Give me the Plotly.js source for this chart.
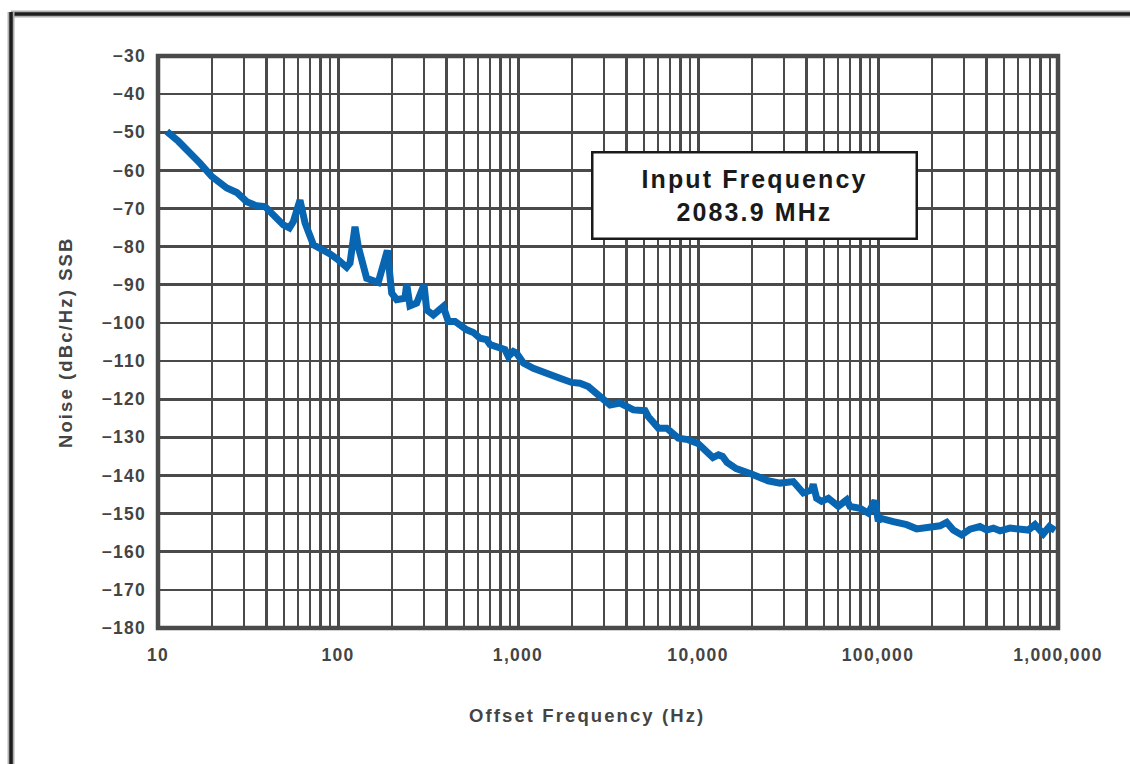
<!DOCTYPE html>
<html>
<head>
<meta charset="utf-8">
<script src="https://cdn.plot.ly/plotly-3.0.1.min.js"></script>
<style>
  html, body { margin: 0; padding: 0; background: #ffffff; }
  #chart { width: 1130px; height: 764px; }
  .xtick text, .ytick text { letter-spacing: 1.3px; }
  .annotation-text { letter-spacing: 2.1px; }
</style>
</head>
<body>
<div id="chart"></div>
<script>
// Offset frequency (Hz) and SSB phase noise (dBc/Hz)
const freqHz = [
  11.2, 13.0, 17.1, 19.9, 24.1, 27.4, 31.1, 35.3, 39.3, 43.7, 49.7, 53.7, 56.5, 61.5, 65.6,
  73, 79.4, 90.3, 100.5, 111.7, 116.6, 124.3, 129.6, 144.3, 167.3, 178.5, 188, 198.8, 211.8,
  235.6, 240.8, 251, 273.6, 300.6, 311, 338.6, 384.5, 410, 447, 519, 565, 615, 670, 699, 778,
  847, 884, 942, 980, 1072, 1217, 1443, 1711, 1986, 2209, 2458, 2856, 3246, 3687, 4018, 4377,
  5080, 5300, 6025, 6700, 7780, 8800, 10000, 11300, 12100, 13000, 13700, 14500, 16300, 19800,
  22000, 24500, 28570, 33840, 38450, 42830, 43650, 45600, 48600, 52960, 60180, 66970, 69850,
  79430, 88370, 96200, 100400, 103000, 121600, 144300, 164000, 194500, 220900, 240800, 262000,
  291600, 324300, 368600, 401700, 437500, 476400, 541300, 615000, 684000, 745000, 828000,
  895000, 962000
];
const noiseDbc = [
  -49.8, -52.4, -58.1, -61.6, -64.6, -65.8, -68.2, -69.3, -69.5, -71.6, -74.3, -75.1, -73.4, -67.8, -73.8,
  -79.5, -80.4, -81.9, -83.5, -85.4, -84.3, -74.8, -80.0, -88.3, -89.4, -85.2, -81.0, -92.2, -93.9,
  -93.5, -89.8, -95.5, -94.8, -90.0, -96.6, -97.9, -95.7, -99.6, -99.6, -101.8, -102.5, -104.0, -104.4, -105.7, -106.6,
  -107.0, -108.8, -107.5, -107.9, -110.5, -111.9, -113.0, -114.5, -115.6, -115.8, -116.7, -119.3, -121.5, -121.0, -121.9, -122.8,
  -123.0, -124.6, -127.6, -127.6, -130.2, -130.6, -131.6, -133.8, -135.3, -134.6, -135.0, -136.6, -138.2, -139.6,
  -140.6, -141.4, -142.0, -141.6, -144.6, -143.8, -142.3, -146.0, -146.8, -146.0, -148.1, -146.4, -148.1,
  -148.6, -149.9, -146.6, -152.0, -151.2, -152.1, -152.9, -154.0, -153.8, -153.2, -152.3, -154.3,
  -155.6, -154.1, -153.4, -154.3, -153.8, -154.5, -153.8, -154.1, -154.3, -152.9, -155.3,
  -153.4, -154.4
];
const xTickVals = [10, 100, 1000, 10000, 100000, 1000000];
const xTickText = ['10', '100', '1,000', '10,000', '100,000', '1,000,000'];
const yTickVals = [-180, -170, -160, -150, -140, -130, -120, -110, -100, -90, -80, -70, -60, -50, -40, -30];
const yTickText = ['\u2212180', '\u2212170', '\u2212160', '\u2212150', '\u2212140', '\u2212130', '\u2212120', '\u2212110',
  '\u2212100', '\u221290', '\u221280', '\u221270', '\u221260', '\u221250', '\u221240', '\u221230'];
const xTitle = 'Offset Frequency (Hz)';
const yTitle = 'Noise (dBc/Hz) SSB';
const boxText = 'Input Frequency<br>2083.9 MHz';

const FONT = 'Liberation Sans, Arial, Helvetica, sans-serif';
const GRID = '#4a4a4a';

const trace = {
  x: freqHz, y: noiseDbc, type: 'scatter', mode: 'lines',
  line: { color: '#0865b1', width: 7 },
  hoverinfo: 'skip', showlegend: false
};

const layout = {
  width: 1130, height: 764,
  margin: { l: 158, r: 72, t: 56, b: 136, pad: 0 },
  paper_bgcolor: '#ffffff', plot_bgcolor: '#ffffff',
  showlegend: false,
  xaxis: {
    type: 'log', range: [1, 6], fixedrange: true,
    tickmode: 'array', tickvals: xTickVals, ticktext: xTickText,
    ticks: '', showline: false, zeroline: false,
    showgrid: true, gridcolor: GRID, gridwidth: 3,
    minor: { dtick: 'D1', showgrid: true, gridcolor: GRID, gridwidth: 2.4, ticks: '' },
    tickfont: { family: FONT, size: 17.5, color: '#444444', weight: 700 },
    ticklabelstandoff: 14
  },
  yaxis: {
    range: [-180, -30], fixedrange: true,
    tickmode: 'array', tickvals: yTickVals, ticktext: yTickText,
    ticks: '', showline: false, zeroline: false,
    showgrid: true, gridcolor: GRID, gridwidth: 2.6,
    tickfont: { family: FONT, size: 17.5, color: '#444444', weight: 700 },
    ticklabelstandoff: 11
  },
  shapes: [
    { type: 'rect', xref: 'paper', yref: 'paper', x0: 0, x1: 1, y0: 0, y1: 1,
      line: { color: '#4a4a4a', width: 4.5 }, layer: 'above' },
    { type: 'line', xref: 'paper', yref: 'paper', x0: -0.1633, x1: 1.2, y0: 1.0734, y1: 1.0734,
      line: { color: '#b0b0b0', width: 7 }, layer: 'above' },
    { type: 'line', xref: 'paper', yref: 'paper', x0: -0.1633, x1: 1.2, y0: 1.0734, y1: 1.0734,
      line: { color: '#1e1e1e', width: 3.5 }, layer: 'above' },
    { type: 'line', xref: 'paper', yref: 'paper', x0: -0.1633, x1: -0.1633, y0: 1.0769, y1: -0.3,
      line: { color: '#b0b0b0', width: 7 }, layer: 'above' },
    { type: 'line', xref: 'paper', yref: 'paper', x0: -0.1633, x1: -0.1633, y0: 1.0769, y1: -0.3,
      line: { color: '#1e1e1e', width: 3.5 }, layer: 'above' }
  ],
  annotations: [
    { text: boxText, xref: 'paper', yref: 'paper', x: 0.6628, y: 0.7561,
      xanchor: 'center', yanchor: 'middle', showarrow: false,
      font: { family: FONT, size: 25, color: '#1a1a1a', weight: 700 },
      bgcolor: '#ffffff', bordercolor: '#1a1a1a', borderwidth: 2.5, borderpad: 0,
      width: 322, height: 84, align: 'center' },
    { text: xTitle, xref: 'paper', yref: 'paper', x: 0.4767, y: -0.1538,
      xanchor: 'center', yanchor: 'middle', showarrow: false,
      font: { family: FONT, size: 18.5, color: '#444444', weight: 700 } },
    { text: yTitle, xref: 'paper', yref: 'paper', x: -0.1033, y: 0.5,
      xanchor: 'center', yanchor: 'middle', showarrow: false, textangle: -90,
      font: { family: FONT, size: 18.5, color: '#444444', weight: 700 } }
  ]
};

Plotly.newPlot('chart', [trace], layout, { staticPlot: true, displayModeBar: false });
</script>
</body>
</html>
